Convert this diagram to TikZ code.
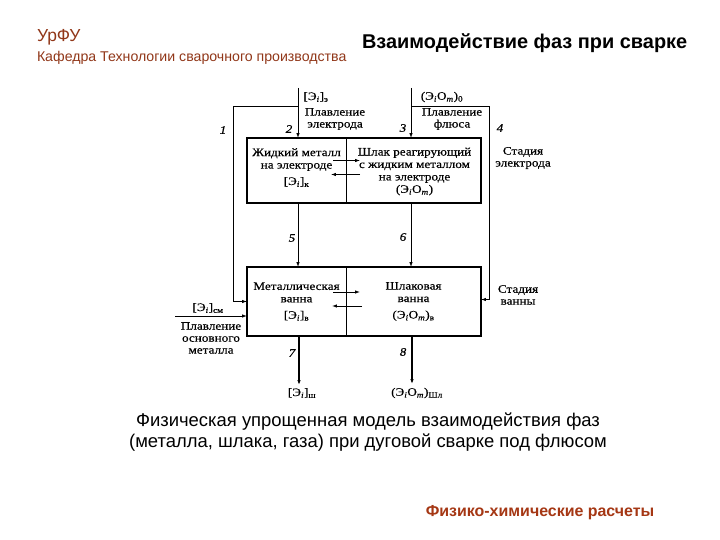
\documentclass[tikz,border=0pt]{standalone}
\usepackage{fontspec}
\setmainfont{Liberation Serif}
\newfontfamily\diag[FakeStretch=1.15,FakeBold=0.4]{Liberation Serif}
\newfontfamily\arial{Liberation Sans}
\usetikzlibrary{arrows.meta,calc}
\definecolor{urfu}{RGB}{145,55,25}
\definecolor{foot}{RGB}{165,55,20}
\newcommand{\Ei}{Э\textsubscript{\textit{i}}}
\newcommand{\EiOm}{Э\textsubscript{\textit{i}}O\textsubscript{\textit{m}}}
\begin{document}
\begin{tikzpicture}[x=1bp,y=-1bp,
  every node/.style={inner sep=0pt, outer sep=0pt},
  comp/.style={draw, line width=0.8pt, anchor=north west},
  ctext/.style={align=center, font=\diag\fontsize{11.5}{12.5}\selectfont},
  lbl/.style={align=center, font=\diag\fontsize{11.5}{12}\selectfont},
  num/.style={font=\diag\itshape\fontsize{11.5}{12}\selectfont},
  arr/.style={line width=0.8pt, -{Latex[length=5pt,width=3.5pt]}},
  thickbox/.style={line width=1.8pt},
  ]
\useasboundingbox (0,0) rectangle (720,540);
\fill[white] (0,0) rectangle (720,540);

% header
\node[anchor=base west, font=\arial\fontsize{17.5}{20}\selectfont, text=urfu] (h1) at (37,42) {УрФУ};
\node[anchor=base west, font=\arial\fontsize{14.2}{16}\selectfont, text=urfu] (h2) at (37,62) {Кафедра Технологии сварочного производства};
\node[anchor=base west, font=\arial\bfseries\fontsize{20}{22}\selectfont] (title) at (362,49) {Взаимодействие фаз при сварке};

% compartments
\node[comp, minimum width=99bp, minimum height=65bp] (ul) at (247,138) {};
\node[comp, minimum width=135bp, minimum height=65bp] (ur) at (346,138) {};
\node[comp, minimum width=99bp, minimum height=69bp] (ll) at (247,267) {};
\node[comp, minimum width=135bp, minimum height=69bp] (lr) at (346,267) {};
\draw[thickbox] (ul.north west) rectangle (ur.south east);
\draw[thickbox] (ll.north west) rectangle (lr.south east);

\node[ctext] (ult) at ($(ul.center)+(0,-3)$) {Жидкий металл\\на электроде\\[4pt][\Ei]\textsubscript{к}};
\node[ctext] (urt) at ($(ur.center)+(1,1)$) {Шлак реагирующий\\с жидким металлом\\на электроде\\(\EiOm)};
\node[ctext] (llt) at (ll.center) {Металлическая\\ванна\\[4pt][\Ei]\textsubscript{в}};
\node[ctext] (lrt) at (lr.center) {Шлаковая\\ванна\\[4pt](\EiOm)\textsubscript{в}};

% exchange arrows
\draw[arr] ($(ul.east)+(-13,-10)$) -- ++(27,0);
\draw[arr] ($(ul.east)+(14,4)$) -- ++(-29,0);
\draw[arr] ($(ll.east)+(-13,-9.5)$) -- ++(27,0);
\draw[arr] ($(ll.east)+(16,4.5)$) -- ++(-30,0);

% connectors
\coordinate (s2) at (298,88);
\coordinate (s3) at (411,88);
\coordinate (j2) at (298,106);
\coordinate (j3) at (411,106);
\coordinate (k1) at (233,106);
\coordinate (k4) at (489,106);
\coordinate (e7) at (299,385);
\coordinate (e8) at (412,384);
\coordinate (s0) at (175,316);
\draw[arr] (s2) -- (s2 |- ul.north);
\draw[arr] (s3) -- (s3 |- ur.north);
\draw[arr] (j2) -- (k1) |- (ll.west);
\draw[arr] (j3) -- (k4) |- ($(lr.east)+(0,-2)$);
\draw[arr] (s2 |- ul.south) -- (s2 |- ll.north);
\draw[arr] (s3 |- ur.south) -- (s3 |- lr.north);
\draw[arr, line width=1.2pt] (e7 |- ll.south) -- (e7);
\draw[arr, line width=1.2pt] (e8 |- lr.south) -- (e8);
\draw[arr] (s0) -- (s0 -| ll.west);

% labels
\node[lbl] (t2a) at (316,97) {[\Ei]\textsubscript{э}};
\node[lbl] (t2b) at (335,119) {Плавление\\электрода};
\node[lbl] (t3a) at (442,97) {(\EiOm)\textsubscript{0}};
\node[lbl] (t3b) at (452,119) {Плавление\\флюса};
\node[lbl] (tse) at (523,158) {Стадия\\электрода};
\node[lbl] (tsv) at (518,295) {Стадия\\ванны};
\node[lbl] (tsm) at (208,308) {[\Ei]\textsubscript{см}};
\node[lbl] (tpo) at (211,338) {Плавление\\основного\\металла};
\node[lbl] (t7) at (302,393) {[\Ei]\textsubscript{ш}};
\node[lbl] (t8) at (417,393) {(\EiOm)\textsubscript{Шл}};
\node[num] (n1) at (223,130) {1};
\node[num] (n2) at (289,129) {2};
\node[num] (n3) at (403,128) {3};
\node[num] (n4) at (500,128) {4};
\node[num] (n5) at (292,238) {5};
\node[num] (n6) at (403,237) {6};
\node[num] (n7) at (292,353) {7};
\node[num] (n8) at (403,352) {8};

% caption
\node[align=center, font=\arial\fontsize{18.5}{21}\selectfont] (cap) at (368,432)
  {Физическая упрощенная модель взаимодействия фаз\\(металла, шлака, газа) при дуговой сварке под флюсом};
\node[font=\arial\bfseries\fontsize{16}{18}\selectfont, text=foot] (foot) at (540,513) {Физико-химические расчеты};
\end{tikzpicture}
\end{document}
